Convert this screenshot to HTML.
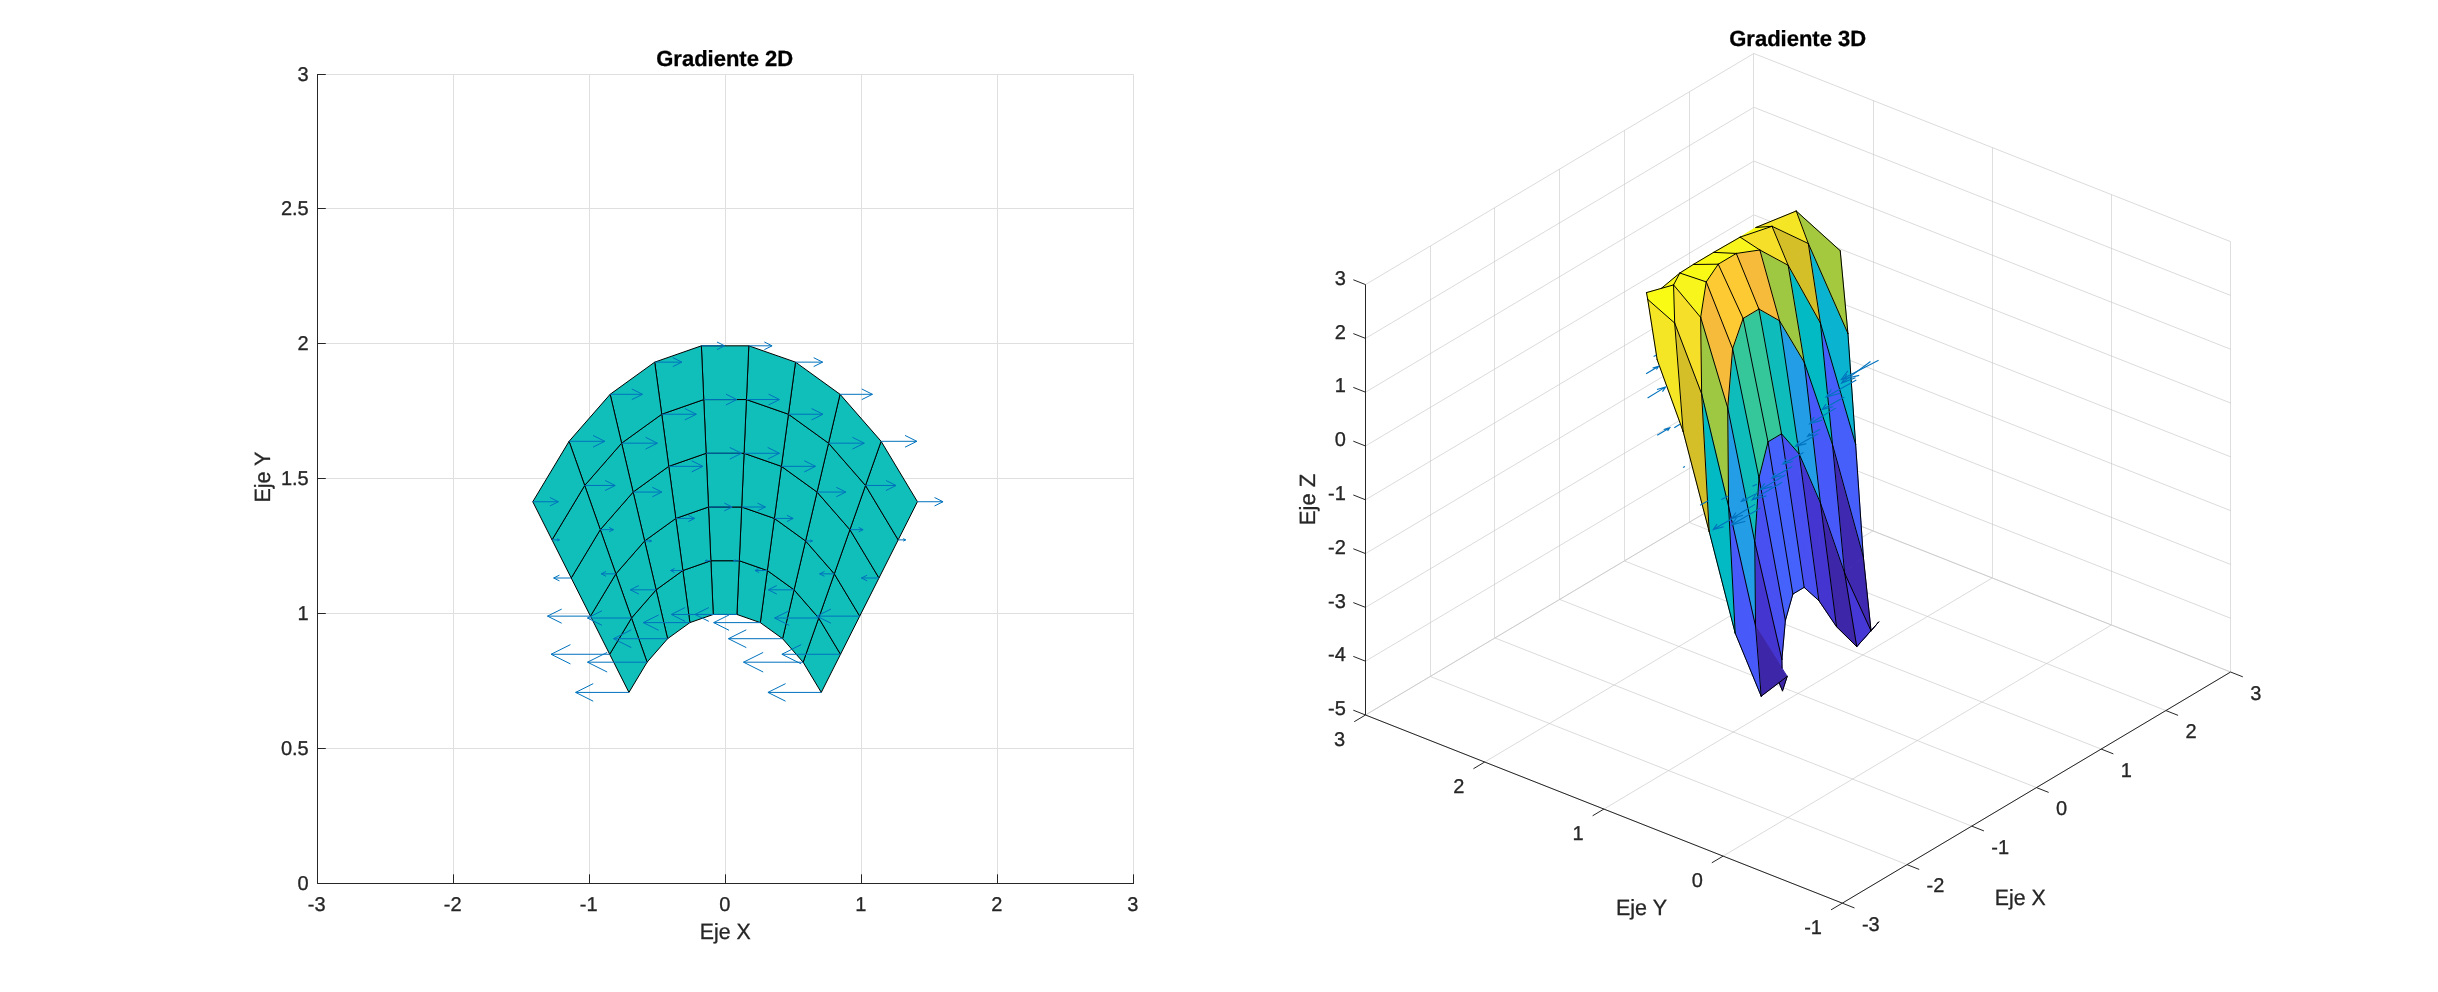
<!DOCTYPE html>
<html><head><meta charset="utf-8"><title>Gradiente</title>
<style>html,body{margin:0;padding:0;background:#fff;overflow:hidden}svg{display:block;will-change:transform}text{text-rendering:geometricPrecision}</style></head>
<body>
<svg width="2438" height="992" viewBox="0 0 2438 992">
<rect width="2438" height="992" fill="#fff"/>
<g id="ax1">
<line x1="317.5" y1="883.5" x2="317.5" y2="74.5" stroke="#dfdfdf" stroke-width="1"/>
<line x1="453.5" y1="883.5" x2="453.5" y2="74.5" stroke="#dfdfdf" stroke-width="1"/>
<line x1="589.5" y1="883.5" x2="589.5" y2="74.5" stroke="#dfdfdf" stroke-width="1"/>
<line x1="725.5" y1="883.5" x2="725.5" y2="74.5" stroke="#dfdfdf" stroke-width="1"/>
<line x1="861.5" y1="883.5" x2="861.5" y2="74.5" stroke="#dfdfdf" stroke-width="1"/>
<line x1="997.5" y1="883.5" x2="997.5" y2="74.5" stroke="#dfdfdf" stroke-width="1"/>
<line x1="1133.5" y1="883.5" x2="1133.5" y2="74.5" stroke="#dfdfdf" stroke-width="1"/>
<line x1="317.5" y1="883.5" x2="1133.5" y2="883.5" stroke="#dfdfdf" stroke-width="1"/>
<line x1="317.5" y1="748.5" x2="1133.5" y2="748.5" stroke="#dfdfdf" stroke-width="1"/>
<line x1="317.5" y1="613.5" x2="1133.5" y2="613.5" stroke="#dfdfdf" stroke-width="1"/>
<line x1="317.5" y1="478.5" x2="1133.5" y2="478.5" stroke="#dfdfdf" stroke-width="1"/>
<line x1="317.5" y1="343.5" x2="1133.5" y2="343.5" stroke="#dfdfdf" stroke-width="1"/>
<line x1="317.5" y1="208.5" x2="1133.5" y2="208.5" stroke="#dfdfdf" stroke-width="1"/>
<line x1="317.5" y1="74.5" x2="1133.5" y2="74.5" stroke="#dfdfdf" stroke-width="1"/>
<polygon points="821.27,692.42 803.11,662.2 818.71,618.02 840.5,654.28" fill="#10beba" stroke="#000" stroke-width="1" stroke-linejoin="round"/>
<polygon points="840.5,654.28 818.71,618.02 834.31,573.84 859.73,616.14" fill="#10beba" stroke="#000" stroke-width="1" stroke-linejoin="round"/>
<polygon points="859.73,616.14 834.31,573.84 849.91,529.66 878.97,578.01" fill="#10beba" stroke="#000" stroke-width="1" stroke-linejoin="round"/>
<polygon points="878.97,578.01 849.91,529.66 865.51,485.48 898.2,539.87" fill="#10beba" stroke="#000" stroke-width="1" stroke-linejoin="round"/>
<polygon points="898.2,539.87 865.51,485.48 881.11,441.3 917.43,501.73" fill="#10beba" stroke="#000" stroke-width="1" stroke-linejoin="round"/>
<polygon points="803.11,662.2 782.58,638.7 794.07,589.82 818.71,618.02" fill="#10beba" stroke="#000" stroke-width="1" stroke-linejoin="round"/>
<polygon points="818.71,618.02 794.07,589.82 805.57,540.94 834.31,573.84" fill="#10beba" stroke="#000" stroke-width="1" stroke-linejoin="round"/>
<polygon points="834.31,573.84 805.57,540.94 817.06,492.06 849.91,529.66" fill="#10beba" stroke="#000" stroke-width="1" stroke-linejoin="round"/>
<polygon points="849.91,529.66 817.06,492.06 828.56,443.18 865.51,485.48" fill="#10beba" stroke="#000" stroke-width="1" stroke-linejoin="round"/>
<polygon points="865.51,485.48 828.56,443.18 840.05,394.3 881.11,441.3" fill="#10beba" stroke="#000" stroke-width="1" stroke-linejoin="round"/>
<polygon points="782.58,638.7 760.3,622.62 767.34,570.53 794.07,589.82" fill="#10beba" stroke="#000" stroke-width="1" stroke-linejoin="round"/>
<polygon points="794.07,589.82 767.34,570.53 774.38,518.43 805.57,540.94" fill="#10beba" stroke="#000" stroke-width="1" stroke-linejoin="round"/>
<polygon points="805.57,540.94 774.38,518.43 781.42,466.34 817.06,492.06" fill="#10beba" stroke="#000" stroke-width="1" stroke-linejoin="round"/>
<polygon points="817.06,492.06 781.42,466.34 788.46,414.24 828.56,443.18" fill="#10beba" stroke="#000" stroke-width="1" stroke-linejoin="round"/>
<polygon points="828.56,443.18 788.46,414.24 795.5,362.14 840.05,394.3" fill="#10beba" stroke="#000" stroke-width="1" stroke-linejoin="round"/>
<polygon points="760.3,622.62 736.95,614.46 739.32,560.73 767.34,570.53" fill="#10beba" stroke="#000" stroke-width="1" stroke-linejoin="round"/>
<polygon points="767.34,570.53 739.32,560.73 741.69,507 774.38,518.43" fill="#10beba" stroke="#000" stroke-width="1" stroke-linejoin="round"/>
<polygon points="774.38,518.43 741.69,507 744.07,453.28 781.42,466.34" fill="#10beba" stroke="#000" stroke-width="1" stroke-linejoin="round"/>
<polygon points="781.42,466.34 744.07,453.28 746.44,399.55 788.46,414.24" fill="#10beba" stroke="#000" stroke-width="1" stroke-linejoin="round"/>
<polygon points="788.46,414.24 746.44,399.55 748.81,345.82 795.5,362.14" fill="#10beba" stroke="#000" stroke-width="1" stroke-linejoin="round"/>
<polygon points="736.95,614.46 713.25,614.46 710.88,560.73 739.32,560.73" fill="#10beba" stroke="#000" stroke-width="1" stroke-linejoin="round"/>
<polygon points="739.32,560.73 710.88,560.73 708.51,507 741.69,507" fill="#10beba" stroke="#000" stroke-width="1" stroke-linejoin="round"/>
<polygon points="741.69,507 708.51,507 706.13,453.28 744.07,453.28" fill="#10beba" stroke="#000" stroke-width="1" stroke-linejoin="round"/>
<polygon points="744.07,453.28 706.13,453.28 703.76,399.55 746.44,399.55" fill="#10beba" stroke="#000" stroke-width="1" stroke-linejoin="round"/>
<polygon points="746.44,399.55 703.76,399.55 701.39,345.82 748.81,345.82" fill="#10beba" stroke="#000" stroke-width="1" stroke-linejoin="round"/>
<polygon points="713.25,614.46 689.9,622.62 682.86,570.53 710.88,560.73" fill="#10beba" stroke="#000" stroke-width="1" stroke-linejoin="round"/>
<polygon points="710.88,560.73 682.86,570.53 675.82,518.43 708.51,507" fill="#10beba" stroke="#000" stroke-width="1" stroke-linejoin="round"/>
<polygon points="708.51,507 675.82,518.43 668.78,466.34 706.13,453.28" fill="#10beba" stroke="#000" stroke-width="1" stroke-linejoin="round"/>
<polygon points="706.13,453.28 668.78,466.34 661.74,414.24 703.76,399.55" fill="#10beba" stroke="#000" stroke-width="1" stroke-linejoin="round"/>
<polygon points="703.76,399.55 661.74,414.24 654.7,362.14 701.39,345.82" fill="#10beba" stroke="#000" stroke-width="1" stroke-linejoin="round"/>
<polygon points="689.9,622.62 667.62,638.7 656.13,589.82 682.86,570.53" fill="#10beba" stroke="#000" stroke-width="1" stroke-linejoin="round"/>
<polygon points="682.86,570.53 656.13,589.82 644.63,540.94 675.82,518.43" fill="#10beba" stroke="#000" stroke-width="1" stroke-linejoin="round"/>
<polygon points="675.82,518.43 644.63,540.94 633.14,492.06 668.78,466.34" fill="#10beba" stroke="#000" stroke-width="1" stroke-linejoin="round"/>
<polygon points="668.78,466.34 633.14,492.06 621.64,443.18 661.74,414.24" fill="#10beba" stroke="#000" stroke-width="1" stroke-linejoin="round"/>
<polygon points="661.74,414.24 621.64,443.18 610.15,394.3 654.7,362.14" fill="#10beba" stroke="#000" stroke-width="1" stroke-linejoin="round"/>
<polygon points="667.62,638.7 647.09,662.2 631.49,618.02 656.13,589.82" fill="#10beba" stroke="#000" stroke-width="1" stroke-linejoin="round"/>
<polygon points="656.13,589.82 631.49,618.02 615.89,573.84 644.63,540.94" fill="#10beba" stroke="#000" stroke-width="1" stroke-linejoin="round"/>
<polygon points="644.63,540.94 615.89,573.84 600.29,529.66 633.14,492.06" fill="#10beba" stroke="#000" stroke-width="1" stroke-linejoin="round"/>
<polygon points="633.14,492.06 600.29,529.66 584.69,485.48 621.64,443.18" fill="#10beba" stroke="#000" stroke-width="1" stroke-linejoin="round"/>
<polygon points="621.64,443.18 584.69,485.48 569.09,441.3 610.15,394.3" fill="#10beba" stroke="#000" stroke-width="1" stroke-linejoin="round"/>
<polygon points="647.09,662.2 628.93,692.42 609.7,654.28 631.49,618.02" fill="#10beba" stroke="#000" stroke-width="1" stroke-linejoin="round"/>
<polygon points="631.49,618.02 609.7,654.28 590.47,616.14 615.89,573.84" fill="#10beba" stroke="#000" stroke-width="1" stroke-linejoin="round"/>
<polygon points="615.89,573.84 590.47,616.14 571.23,578.01 600.29,529.66" fill="#10beba" stroke="#000" stroke-width="1" stroke-linejoin="round"/>
<polygon points="600.29,529.66 571.23,578.01 552,539.87 584.69,485.48" fill="#10beba" stroke="#000" stroke-width="1" stroke-linejoin="round"/>
<polygon points="584.69,485.48 552,539.87 532.77,501.73 569.09,441.3" fill="#10beba" stroke="#000" stroke-width="1" stroke-linejoin="round"/>
<path d="M821.27 692.42H767.95M785.55 683.65L767.95 692.42L785.55 701.18" fill="none" stroke="#0072bd" stroke-width="1"/>
<path d="M840.5 654.28H781.88M801.23 644.64L781.88 654.28L801.23 663.92" fill="none" stroke="#0072bd" stroke-width="1"/>
<path d="M859.73 616.14H816.77M830.94 609.08L816.77 616.14L830.94 623.21" fill="none" stroke="#0072bd" stroke-width="1"/>
<path d="M878.97 578.01H861.39M867.19 575.12L861.39 578.01L867.19 580.9" fill="none" stroke="#0072bd" stroke-width="1"/>
<path d="M898.2 539.87H905.69M903.22 538.64L905.69 539.87L903.22 541.1" fill="none" stroke="#0072bd" stroke-width="1"/>
<path d="M917.43 501.73H943.04M934.59 497.52L943.04 501.73L934.59 505.94" fill="none" stroke="#0072bd" stroke-width="1"/>
<path d="M803.11 662.2H743.52M763.18 652.41L743.52 662.2L763.18 672" fill="none" stroke="#0072bd" stroke-width="1"/>
<path d="M818.71 618.02H774.65M789.19 610.78L774.65 618.02L789.19 625.27" fill="none" stroke="#0072bd" stroke-width="1"/>
<path d="M834.31 573.84H819.64M824.48 571.43L819.64 573.84L824.48 576.25" fill="none" stroke="#0072bd" stroke-width="1"/>
<path d="M849.91 529.66H863.11M858.75 527.49L863.11 529.66L858.75 531.83" fill="none" stroke="#0072bd" stroke-width="1"/>
<path d="M865.51 485.48H896.01M885.94 480.47L896.01 485.48L885.94 490.5" fill="none" stroke="#0072bd" stroke-width="1"/>
<path d="M881.11 441.3H916.84M905.05 435.43L916.84 441.3L905.05 447.18" fill="none" stroke="#0072bd" stroke-width="1"/>
<path d="M782.58 638.7H728.45M746.31 629.8L728.45 638.7L746.31 647.6" fill="none" stroke="#0072bd" stroke-width="1"/>
<path d="M794.07 589.82H768.25M776.77 585.57L768.25 589.82L776.77 594.06" fill="none" stroke="#0072bd" stroke-width="1"/>
<path d="M805.57 540.94H812.43M810.17 539.81L812.43 540.94L810.17 542.07" fill="none" stroke="#0072bd" stroke-width="1"/>
<path d="M817.06 492.06H845.79M836.31 487.34L845.79 492.06L836.31 496.78" fill="none" stroke="#0072bd" stroke-width="1"/>
<path d="M828.56 443.18H864.26M852.48 437.31L864.26 443.18L852.48 449.05" fill="none" stroke="#0072bd" stroke-width="1"/>
<path d="M840.05 394.3H872.43M861.75 388.97L872.43 394.3L861.75 399.62" fill="none" stroke="#0072bd" stroke-width="1"/>
<path d="M760.3 622.62H713.68M729.06 614.96L713.68 622.62L729.06 630.29" fill="none" stroke="#0072bd" stroke-width="1"/>
<path d="M767.34 570.53H754.97M759.05 568.49L754.97 570.53L759.05 572.56" fill="none" stroke="#0072bd" stroke-width="1"/>
<path d="M774.38 518.43H793.16M786.96 515.34L793.16 518.43L786.96 521.52" fill="none" stroke="#0072bd" stroke-width="1"/>
<path d="M781.42 466.34H815.51M804.26 460.73L815.51 466.34L804.26 471.94" fill="none" stroke="#0072bd" stroke-width="1"/>
<path d="M788.46 414.24H823.01M811.61 408.56L823.01 414.24L811.61 419.92" fill="none" stroke="#0072bd" stroke-width="1"/>
<path d="M795.5 362.14H822.62M813.67 357.68L822.62 362.14L813.67 366.6" fill="none" stroke="#0072bd" stroke-width="1"/>
<path d="M736.95 614.46H694.98M708.83 607.56L694.98 614.46L708.83 621.36" fill="none" stroke="#0072bd" stroke-width="1"/>
<path d="M739.32 560.73H733.64M735.51 559.8L733.64 560.73L735.51 561.67" fill="none" stroke="#0072bd" stroke-width="1"/>
<path d="M741.69 507H765.35M757.54 503.12L765.35 507L757.54 510.89" fill="none" stroke="#0072bd" stroke-width="1"/>
<path d="M744.07 453.28H779.4M767.74 447.47L779.4 453.28L767.74 459.08" fill="none" stroke="#0072bd" stroke-width="1"/>
<path d="M746.44 399.55H779.47M768.57 394.12L779.47 399.55L768.57 404.98" fill="none" stroke="#0072bd" stroke-width="1"/>
<path d="M748.81 345.82H772.07M764.39 341.99L772.07 345.82L764.39 349.64" fill="none" stroke="#0072bd" stroke-width="1"/>
<path d="M713.25 614.46H671.28M685.13 607.56L671.28 614.46L685.13 621.36" fill="none" stroke="#0072bd" stroke-width="1"/>
<path d="M710.88 560.73H705.19M707.07 559.8L705.19 560.73L707.07 561.67" fill="none" stroke="#0072bd" stroke-width="1"/>
<path d="M708.51 507H732.16M724.35 503.12L732.16 507L724.35 510.89" fill="none" stroke="#0072bd" stroke-width="1"/>
<path d="M706.13 453.28H741.47M729.81 447.47L741.47 453.28L729.81 459.08" fill="none" stroke="#0072bd" stroke-width="1"/>
<path d="M703.76 399.55H736.8M725.9 394.12L736.8 399.55L725.9 404.98" fill="none" stroke="#0072bd" stroke-width="1"/>
<path d="M701.39 345.82H724.65M716.98 341.99L724.65 345.82L716.98 349.64" fill="none" stroke="#0072bd" stroke-width="1"/>
<path d="M689.9 622.62H643.28M658.66 614.96L643.28 622.62L658.66 630.29" fill="none" stroke="#0072bd" stroke-width="1"/>
<path d="M682.86 570.53H670.49M674.57 568.49L670.49 570.53L674.57 572.56" fill="none" stroke="#0072bd" stroke-width="1"/>
<path d="M675.82 518.43H694.6M688.4 515.34L694.6 518.43L688.4 521.52" fill="none" stroke="#0072bd" stroke-width="1"/>
<path d="M668.78 466.34H702.87M691.62 460.73L702.87 466.34L691.62 471.94" fill="none" stroke="#0072bd" stroke-width="1"/>
<path d="M661.74 414.24H696.29M684.89 408.56L696.29 414.24L684.89 419.92" fill="none" stroke="#0072bd" stroke-width="1"/>
<path d="M654.7 362.14H681.83M672.87 357.68L681.83 362.14L672.87 366.6" fill="none" stroke="#0072bd" stroke-width="1"/>
<path d="M667.62 638.7H613.5M631.36 629.8L613.5 638.7L631.36 647.6" fill="none" stroke="#0072bd" stroke-width="1"/>
<path d="M656.13 589.82H630.3M638.83 585.57L630.3 589.82L638.83 594.06" fill="none" stroke="#0072bd" stroke-width="1"/>
<path d="M644.63 540.94H651.5M649.23 539.81L651.5 540.94L649.23 542.07" fill="none" stroke="#0072bd" stroke-width="1"/>
<path d="M633.14 492.06H661.86M652.38 487.34L661.86 492.06L652.38 496.78" fill="none" stroke="#0072bd" stroke-width="1"/>
<path d="M621.64 443.18H657.35M645.57 437.31L657.35 443.18L645.57 449.05" fill="none" stroke="#0072bd" stroke-width="1"/>
<path d="M610.15 394.3H642.53M631.84 388.97L642.53 394.3L631.84 399.62" fill="none" stroke="#0072bd" stroke-width="1"/>
<path d="M647.09 662.2H587.5M607.17 652.41L587.5 662.2L607.17 672" fill="none" stroke="#0072bd" stroke-width="1"/>
<path d="M631.49 618.02H587.43M601.97 610.78L587.43 618.02L601.97 625.27" fill="none" stroke="#0072bd" stroke-width="1"/>
<path d="M615.89 573.84H601.22M606.06 571.43L601.22 573.84L606.06 576.25" fill="none" stroke="#0072bd" stroke-width="1"/>
<path d="M600.29 529.66H613.49M609.13 527.49L613.49 529.66L609.13 531.83" fill="none" stroke="#0072bd" stroke-width="1"/>
<path d="M584.69 485.48H615.18M605.12 480.47L615.18 485.48L605.12 490.5" fill="none" stroke="#0072bd" stroke-width="1"/>
<path d="M569.09 441.3H604.81M593.02 435.43L604.81 441.3L593.02 447.18" fill="none" stroke="#0072bd" stroke-width="1"/>
<path d="M628.93 692.42H575.62M593.21 683.65L575.62 692.42L593.21 701.18" fill="none" stroke="#0072bd" stroke-width="1"/>
<path d="M609.7 654.28H551.09M570.43 644.64L551.09 654.28L570.43 663.92" fill="none" stroke="#0072bd" stroke-width="1"/>
<path d="M590.47 616.14H547.5M561.68 609.08L547.5 616.14L561.68 623.21" fill="none" stroke="#0072bd" stroke-width="1"/>
<path d="M571.23 578.01H553.66M559.46 575.12L553.66 578.01L559.46 580.9" fill="none" stroke="#0072bd" stroke-width="1"/>
<path d="M552 539.87H559.49M557.02 538.64L559.49 539.87L557.02 541.1" fill="none" stroke="#0072bd" stroke-width="1"/>
<path d="M532.77 501.73H558.38M549.93 497.52L558.38 501.73L549.93 505.94" fill="none" stroke="#0072bd" stroke-width="1"/>
<path d="M317.5 74V883.5H1134" fill="none" stroke="#262626" stroke-width="1"/>
<line x1="317.5" y1="883.5" x2="317.5" y2="874.3" stroke="#262626" stroke-width="1"/>
<text x="316.7" y="910.6" text-anchor="middle" font-size="20" fill="#262626" font-family="Liberation Sans, sans-serif" stroke="#262626" stroke-width="0.3">-3</text>
<line x1="453.5" y1="883.5" x2="453.5" y2="874.3" stroke="#262626" stroke-width="1"/>
<text x="452.7" y="910.6" text-anchor="middle" font-size="20" fill="#262626" font-family="Liberation Sans, sans-serif" stroke="#262626" stroke-width="0.3">-2</text>
<line x1="589.5" y1="883.5" x2="589.5" y2="874.3" stroke="#262626" stroke-width="1"/>
<text x="588.7" y="910.6" text-anchor="middle" font-size="20" fill="#262626" font-family="Liberation Sans, sans-serif" stroke="#262626" stroke-width="0.3">-1</text>
<line x1="725.5" y1="883.5" x2="725.5" y2="874.3" stroke="#262626" stroke-width="1"/>
<text x="724.7" y="910.6" text-anchor="middle" font-size="20" fill="#262626" font-family="Liberation Sans, sans-serif" stroke="#262626" stroke-width="0.3">0</text>
<line x1="861.5" y1="883.5" x2="861.5" y2="874.3" stroke="#262626" stroke-width="1"/>
<text x="860.7" y="910.6" text-anchor="middle" font-size="20" fill="#262626" font-family="Liberation Sans, sans-serif" stroke="#262626" stroke-width="0.3">1</text>
<line x1="997.5" y1="883.5" x2="997.5" y2="874.3" stroke="#262626" stroke-width="1"/>
<text x="996.7" y="910.6" text-anchor="middle" font-size="20" fill="#262626" font-family="Liberation Sans, sans-serif" stroke="#262626" stroke-width="0.3">2</text>
<line x1="1133.5" y1="883.5" x2="1133.5" y2="874.3" stroke="#262626" stroke-width="1"/>
<text x="1132.7" y="910.6" text-anchor="middle" font-size="20" fill="#262626" font-family="Liberation Sans, sans-serif" stroke="#262626" stroke-width="0.3">3</text>
<line x1="317.5" y1="883.5" x2="325.8" y2="883.5" stroke="#262626" stroke-width="1"/>
<text x="308.7" y="890" text-anchor="end" font-size="20" fill="#262626" font-family="Liberation Sans, sans-serif" stroke="#262626" stroke-width="0.3">0</text>
<line x1="317.5" y1="748.5" x2="325.8" y2="748.5" stroke="#262626" stroke-width="1"/>
<text x="308.7" y="755" text-anchor="end" font-size="20" fill="#262626" font-family="Liberation Sans, sans-serif" stroke="#262626" stroke-width="0.3">0.5</text>
<line x1="317.5" y1="613.5" x2="325.8" y2="613.5" stroke="#262626" stroke-width="1"/>
<text x="308.7" y="620" text-anchor="end" font-size="20" fill="#262626" font-family="Liberation Sans, sans-serif" stroke="#262626" stroke-width="0.3">1</text>
<line x1="317.5" y1="478.5" x2="325.8" y2="478.5" stroke="#262626" stroke-width="1"/>
<text x="308.7" y="485" text-anchor="end" font-size="20" fill="#262626" font-family="Liberation Sans, sans-serif" stroke="#262626" stroke-width="0.3">1.5</text>
<line x1="317.5" y1="343.5" x2="325.8" y2="343.5" stroke="#262626" stroke-width="1"/>
<text x="308.7" y="350" text-anchor="end" font-size="20" fill="#262626" font-family="Liberation Sans, sans-serif" stroke="#262626" stroke-width="0.3">2</text>
<line x1="317.5" y1="208.5" x2="325.8" y2="208.5" stroke="#262626" stroke-width="1"/>
<text x="308.7" y="215" text-anchor="end" font-size="20" fill="#262626" font-family="Liberation Sans, sans-serif" stroke="#262626" stroke-width="0.3">2.5</text>
<line x1="317.5" y1="74.5" x2="325.8" y2="74.5" stroke="#262626" stroke-width="1"/>
<text x="308.7" y="81" text-anchor="end" font-size="20" fill="#262626" font-family="Liberation Sans, sans-serif" stroke="#262626" stroke-width="0.3">3</text>
<text x="725.3" y="939" text-anchor="middle" font-size="22" fill="#262626" font-family="Liberation Sans, sans-serif" stroke="#262626" stroke-width="0.3" textLength="50.9" lengthAdjust="spacingAndGlyphs">Eje X</text>
<text transform="translate(270 477.1) rotate(-90)" text-anchor="middle" font-size="22" fill="#262626" font-family="Liberation Sans, sans-serif" stroke="#262626" stroke-width="0.3" textLength="51" lengthAdjust="spacingAndGlyphs">Eje Y</text>
<text x="724.7" y="66" text-anchor="middle" font-size="22" font-weight="bold" fill="#000" font-family="Liberation Sans, sans-serif" stroke="#000" stroke-width="0.3">Gradiente 2D</text>
</g>
<g id="ax2">
<path d="M1842.3 903.15L1365.5 714.99" stroke="#c2c2c2" stroke-width="0.6" fill="none"/>
<path d="M1907.02 864.63L1430.22 676.47" stroke="#c2c2c2" stroke-width="0.6" fill="none"/>
<path d="M1971.74 826.11L1494.94 637.95" stroke="#c2c2c2" stroke-width="0.6" fill="none"/>
<path d="M2036.46 787.59L1559.66 599.43" stroke="#c2c2c2" stroke-width="0.6" fill="none"/>
<path d="M2101.18 749.07L1624.38 560.91" stroke="#c2c2c2" stroke-width="0.6" fill="none"/>
<path d="M2165.9 710.55L1689.1 522.39" stroke="#c2c2c2" stroke-width="0.6" fill="none"/>
<path d="M2230.62 672.03L1753.82 483.87" stroke="#c2c2c2" stroke-width="0.6" fill="none"/>
<path d="M1842.3 903.15L2230.62 672.03" stroke="#c2c2c2" stroke-width="0.6" fill="none"/>
<path d="M1723.1 856.11L2111.42 624.99" stroke="#c2c2c2" stroke-width="0.6" fill="none"/>
<path d="M1603.9 809.07L1992.22 577.95" stroke="#c2c2c2" stroke-width="0.6" fill="none"/>
<path d="M1484.7 762.03L1873.02 530.91" stroke="#c2c2c2" stroke-width="0.6" fill="none"/>
<path d="M1365.5 714.99L1753.82 483.87" stroke="#c2c2c2" stroke-width="0.6" fill="none"/>
<path d="M1365.5 714.99L1365.5 284.59" stroke="#dfdfdf" stroke-width="1" fill="none"/>
<path d="M1430.5 676.47L1430.5 246.07" stroke="#dfdfdf" stroke-width="1" fill="none"/>
<path d="M1494.5 637.95L1494.5 207.55" stroke="#dfdfdf" stroke-width="1" fill="none"/>
<path d="M1559.5 599.43L1559.5 169.03" stroke="#dfdfdf" stroke-width="1" fill="none"/>
<path d="M1624.5 560.91L1624.5 130.51" stroke="#dfdfdf" stroke-width="1" fill="none"/>
<path d="M1689.5 522.39L1689.5 91.99" stroke="#dfdfdf" stroke-width="1" fill="none"/>
<path d="M1753.5 483.87L1753.5 53.47" stroke="#dfdfdf" stroke-width="1" fill="none"/>
<path d="M1365.5 714.99L1753.82 483.87" stroke="#c2c2c2" stroke-width="0.6" fill="none"/>
<path d="M1365.5 661.19L1753.82 430.07" stroke="#c2c2c2" stroke-width="0.6" fill="none"/>
<path d="M1365.5 607.39L1753.82 376.27" stroke="#c2c2c2" stroke-width="0.6" fill="none"/>
<path d="M1365.5 553.59L1753.82 322.47" stroke="#c2c2c2" stroke-width="0.6" fill="none"/>
<path d="M1365.5 499.79L1753.82 268.67" stroke="#c2c2c2" stroke-width="0.6" fill="none"/>
<path d="M1365.5 445.99L1753.82 214.87" stroke="#c2c2c2" stroke-width="0.6" fill="none"/>
<path d="M1365.5 392.19L1753.82 161.07" stroke="#c2c2c2" stroke-width="0.6" fill="none"/>
<path d="M1365.5 338.39L1753.82 107.27" stroke="#c2c2c2" stroke-width="0.6" fill="none"/>
<path d="M1365.5 284.59L1753.82 53.47" stroke="#c2c2c2" stroke-width="0.6" fill="none"/>
<path d="M2230.5 672.03L2230.5 241.63" stroke="#dfdfdf" stroke-width="1" fill="none"/>
<path d="M2111.5 624.99L2111.5 194.59" stroke="#dfdfdf" stroke-width="1" fill="none"/>
<path d="M1992.5 577.95L1992.5 147.55" stroke="#dfdfdf" stroke-width="1" fill="none"/>
<path d="M1873.5 530.91L1873.5 100.51" stroke="#dfdfdf" stroke-width="1" fill="none"/>
<path d="M1753.5 483.87L1753.5 53.47" stroke="#dfdfdf" stroke-width="1" fill="none"/>
<path d="M2230.62 672.03L1753.82 483.87" stroke="#c2c2c2" stroke-width="0.6" fill="none"/>
<path d="M2230.62 618.23L1753.82 430.07" stroke="#c2c2c2" stroke-width="0.6" fill="none"/>
<path d="M2230.62 564.43L1753.82 376.27" stroke="#c2c2c2" stroke-width="0.6" fill="none"/>
<path d="M2230.62 510.63L1753.82 322.47" stroke="#c2c2c2" stroke-width="0.6" fill="none"/>
<path d="M2230.62 456.83L1753.82 268.67" stroke="#c2c2c2" stroke-width="0.6" fill="none"/>
<path d="M2230.62 403.03L1753.82 214.87" stroke="#c2c2c2" stroke-width="0.6" fill="none"/>
<path d="M2230.62 349.23L1753.82 161.07" stroke="#c2c2c2" stroke-width="0.6" fill="none"/>
<path d="M2230.62 295.43L1753.82 107.27" stroke="#c2c2c2" stroke-width="0.6" fill="none"/>
<path d="M2230.62 241.63L1753.82 53.47" stroke="#c2c2c2" stroke-width="0.6" fill="none"/>
<g id="surf3">
<path d="M1878.74 621.95L1856.74 646.66L1871.03 630.82Z" fill="#4538d7" stroke="#4538d7" stroke-width="1" stroke-linejoin="round"/>
<path d="M1844.63 573.09L1856.74 646.66L1870.97 630.68Z" fill="#4538d7" stroke="#4538d7" stroke-width="1" stroke-linejoin="round"/>
<path d="M1871.03 630.82L1844.63 573.09L1863.33 556.83Z" fill="#3f29b0" stroke="#3f29b0" stroke-width="1" stroke-linejoin="round"/>
<path d="M1844.63 573.09L1832.53 444.71L1863.33 556.83Z" fill="#3f29b0" stroke="#3f29b0" stroke-width="1" stroke-linejoin="round"/>
<path d="M1863.33 556.83L1832.53 444.71L1855.62 444.29Z" fill="#465efa" stroke="#465efa" stroke-width="1" stroke-linejoin="round"/>
<path d="M1832.53 444.71L1820.43 323.1L1855.62 444.29Z" fill="#465efa" stroke="#465efa" stroke-width="1" stroke-linejoin="round"/>
<path d="M1855.62 444.29L1820.43 323.1L1847.92 333.44Z" fill="#0ab4d1" stroke="#0ab4d1" stroke-width="1" stroke-linejoin="round"/>
<path d="M1820.43 323.1L1808.32 243.54L1847.92 333.44Z" fill="#0ab4d1" stroke="#0ab4d1" stroke-width="1" stroke-linejoin="round"/>
<path d="M1847.92 333.44L1808.32 243.54L1840.21 250.71Z" fill="#a4c83e" stroke="#a4c83e" stroke-width="1" stroke-linejoin="round"/>
<path d="M1808.32 243.54L1796.22 211.02L1840.21 250.71Z" fill="#a4c83e" stroke="#a4c83e" stroke-width="1" stroke-linejoin="round"/>
<path d="M1856.74 646.66L1836.58 626.76L1844.63 573.09Z" fill="#3e26a8" stroke="#3e26a8" stroke-width="1" stroke-linejoin="round"/>
<path d="M1836.58 626.76L1820.44 503.01L1844.63 573.09Z" fill="#3e26a8" stroke="#3e26a8" stroke-width="1" stroke-linejoin="round"/>
<path d="M1844.63 573.09L1820.44 503.01L1832.53 444.71Z" fill="#475af9" stroke="#475af9" stroke-width="1" stroke-linejoin="round"/>
<path d="M1820.44 503.01L1804.31 362.32L1832.53 444.71Z" fill="#475af9" stroke="#475af9" stroke-width="1" stroke-linejoin="round"/>
<path d="M1832.53 444.71L1804.31 362.32L1820.43 323.1Z" fill="#02bac4" stroke="#02bac4" stroke-width="1" stroke-linejoin="round"/>
<path d="M1804.31 362.32L1788.17 265.3L1820.43 323.1Z" fill="#02bac4" stroke="#02bac4" stroke-width="1" stroke-linejoin="round"/>
<path d="M1820.43 323.1L1788.17 265.3L1808.32 243.54Z" fill="#d4bf29" stroke="#d4bf29" stroke-width="1" stroke-linejoin="round"/>
<path d="M1788.17 265.3L1772.04 226.31L1808.32 243.54Z" fill="#d4bf29" stroke="#d4bf29" stroke-width="1" stroke-linejoin="round"/>
<path d="M1808.32 243.54L1772.04 226.31L1796.22 211.02Z" fill="#f5e625" stroke="#f5e625" stroke-width="1" stroke-linejoin="round"/>
<path d="M1772.04 226.31L1755.9 227.48L1796.22 211.02Z" fill="#f5e625" stroke="#f5e625" stroke-width="1" stroke-linejoin="round"/>
<path d="M1836.58 626.76L1818.87 600.58L1820.44 503.01Z" fill="#4435d1" stroke="#4435d1" stroke-width="1" stroke-linejoin="round"/>
<path d="M1818.87 600.58L1799.19 453.99L1820.44 503.01Z" fill="#4435d1" stroke="#4435d1" stroke-width="1" stroke-linejoin="round"/>
<path d="M1820.44 503.01L1799.19 453.99L1804.31 362.32Z" fill="#249de7" stroke="#249de7" stroke-width="1" stroke-linejoin="round"/>
<path d="M1799.19 453.99L1779.52 320.76L1804.31 362.32Z" fill="#249de7" stroke="#249de7" stroke-width="1" stroke-linejoin="round"/>
<path d="M1804.31 362.32L1779.52 320.76L1788.17 265.3Z" fill="#9fc842" stroke="#9fc842" stroke-width="1" stroke-linejoin="round"/>
<path d="M1779.52 320.76L1759.84 249.99L1788.17 265.3Z" fill="#9fc842" stroke="#9fc842" stroke-width="1" stroke-linejoin="round"/>
<path d="M1788.17 265.3L1759.84 249.99L1772.04 226.31Z" fill="#f6df29" stroke="#f6df29" stroke-width="1" stroke-linejoin="round"/>
<path d="M1759.84 249.99L1740.16 237.13L1772.04 226.31Z" fill="#f6df29" stroke="#f6df29" stroke-width="1" stroke-linejoin="round"/>
<path d="M1772.04 226.31L1740.16 237.13L1755.9 227.48Z" fill="#f9fb15" stroke="#f9fb15" stroke-width="1" stroke-linejoin="round"/>
<path d="M1818.87 600.58L1804.15 587.36L1799.19 453.99Z" fill="#4850f2" stroke="#4850f2" stroke-width="1" stroke-linejoin="round"/>
<path d="M1804.15 587.36L1781.53 433.79L1799.19 453.99Z" fill="#4850f2" stroke="#4850f2" stroke-width="1" stroke-linejoin="round"/>
<path d="M1799.19 453.99L1781.53 433.79L1779.52 320.76Z" fill="#0ebdbb" stroke="#0ebdbb" stroke-width="1" stroke-linejoin="round"/>
<path d="M1781.53 433.79L1758.91 309.04L1779.52 320.76Z" fill="#0ebdbb" stroke="#0ebdbb" stroke-width="1" stroke-linejoin="round"/>
<path d="M1779.52 320.76L1758.91 309.04L1759.84 249.99Z" fill="#f6bb3a" stroke="#f6bb3a" stroke-width="1" stroke-linejoin="round"/>
<path d="M1758.91 309.04L1736.29 253.45L1759.84 249.99Z" fill="#f6bb3a" stroke="#f6bb3a" stroke-width="1" stroke-linejoin="round"/>
<path d="M1759.84 249.99L1736.29 253.45L1740.16 237.13Z" fill="#f7f51b" stroke="#f7f51b" stroke-width="1" stroke-linejoin="round"/>
<path d="M1736.29 253.45L1713.67 252.37L1740.16 237.13Z" fill="#f7f51b" stroke="#f7f51b" stroke-width="1" stroke-linejoin="round"/>
<path d="M1804.15 587.36L1792.87 594.07L1781.53 433.79Z" fill="#4562fc" stroke="#4562fc" stroke-width="1" stroke-linejoin="round"/>
<path d="M1792.87 594.07L1768 441.84L1781.53 433.79Z" fill="#4562fc" stroke="#4562fc" stroke-width="1" stroke-linejoin="round"/>
<path d="M1781.53 433.79L1768 441.84L1758.91 309.04Z" fill="#35c79a" stroke="#35c79a" stroke-width="1" stroke-linejoin="round"/>
<path d="M1768 441.84L1743.12 318.44L1758.91 309.04Z" fill="#35c79a" stroke="#35c79a" stroke-width="1" stroke-linejoin="round"/>
<path d="M1758.91 309.04L1743.12 318.44L1736.29 253.45Z" fill="#feca33" stroke="#feca33" stroke-width="1" stroke-linejoin="round"/>
<path d="M1743.12 318.44L1718.24 264.2L1736.29 253.45Z" fill="#feca33" stroke="#feca33" stroke-width="1" stroke-linejoin="round"/>
<path d="M1736.29 253.45L1718.24 264.2L1713.67 252.37Z" fill="#f9f916" stroke="#f9f916" stroke-width="1" stroke-linejoin="round"/>
<path d="M1718.24 264.2L1693.36 264.45L1713.67 252.37Z" fill="#f9f916" stroke="#f9f916" stroke-width="1" stroke-linejoin="round"/>
<path d="M1792.87 594.07L1785.37 620.52L1768 441.84Z" fill="#4562fc" stroke="#4562fc" stroke-width="1" stroke-linejoin="round"/>
<path d="M1785.37 620.52L1758.99 477.92L1768 441.84Z" fill="#4562fc" stroke="#4562fc" stroke-width="1" stroke-linejoin="round"/>
<path d="M1768 441.84L1758.99 477.92L1743.12 318.44Z" fill="#35c79a" stroke="#35c79a" stroke-width="1" stroke-linejoin="round"/>
<path d="M1758.99 477.92L1732.62 348.67L1743.12 318.44Z" fill="#35c79a" stroke="#35c79a" stroke-width="1" stroke-linejoin="round"/>
<path d="M1743.12 318.44L1732.62 348.67L1718.24 264.2Z" fill="#feca33" stroke="#feca33" stroke-width="1" stroke-linejoin="round"/>
<path d="M1732.62 348.67L1706.24 281.89L1718.24 264.2Z" fill="#feca33" stroke="#feca33" stroke-width="1" stroke-linejoin="round"/>
<path d="M1718.24 264.2L1706.24 281.89L1693.36 264.45Z" fill="#f9f916" stroke="#f9f916" stroke-width="1" stroke-linejoin="round"/>
<path d="M1706.24 281.89L1679.86 273.02L1693.36 264.45Z" fill="#f9f916" stroke="#f9f916" stroke-width="1" stroke-linejoin="round"/>
<path d="M1785.37 620.52L1781.88 659.32L1758.99 477.92Z" fill="#4850f2" stroke="#4850f2" stroke-width="1" stroke-linejoin="round"/>
<path d="M1781.88 659.32L1754.8 542.09L1758.99 477.92Z" fill="#4850f2" stroke="#4850f2" stroke-width="1" stroke-linejoin="round"/>
<path d="M1758.99 477.92L1754.8 542.09L1732.62 348.67Z" fill="#0ebdbb" stroke="#0ebdbb" stroke-width="1" stroke-linejoin="round"/>
<path d="M1754.8 542.09L1727.72 407.9L1732.62 348.67Z" fill="#0ebdbb" stroke="#0ebdbb" stroke-width="1" stroke-linejoin="round"/>
<path d="M1732.62 348.67L1727.72 407.9L1706.24 281.89Z" fill="#f6bb3a" stroke="#f6bb3a" stroke-width="1" stroke-linejoin="round"/>
<path d="M1727.72 407.9L1700.65 317.39L1706.24 281.89Z" fill="#f6bb3a" stroke="#f6bb3a" stroke-width="1" stroke-linejoin="round"/>
<path d="M1706.24 281.89L1700.65 317.39L1679.86 273.02Z" fill="#f7f51b" stroke="#f7f51b" stroke-width="1" stroke-linejoin="round"/>
<path d="M1700.65 317.39L1673.57 284.91L1679.86 273.02Z" fill="#f7f51b" stroke="#f7f51b" stroke-width="1" stroke-linejoin="round"/>
<path d="M1661.29 288.4L1673.57 284.91L1679.86 273.02Z" fill="#f8f619" stroke="#f8f619" stroke-width="1" stroke-linejoin="round"/>
<path d="M1754.8 542.09L1776.7 659.74L1778.17 662.08L1782.05 668.23L1781.88 659.32Z" fill="#4435d1" stroke="#4435d1" stroke-width="1" stroke-linejoin="round"/>
<path d="M1755.54 626.12L1776.7 659.74L1754.8 542.09Z" fill="#4435d1" stroke="#4435d1" stroke-width="1" stroke-linejoin="round"/>
<path d="M1754.8 542.09L1755.54 626.12L1727.72 407.9Z" fill="#249de7" stroke="#249de7" stroke-width="1" stroke-linejoin="round"/>
<path d="M1755.54 626.12L1728.59 506.57L1727.72 407.9Z" fill="#249de7" stroke="#249de7" stroke-width="1" stroke-linejoin="round"/>
<path d="M1727.72 407.9L1728.59 506.57L1700.65 317.39Z" fill="#9fc842" stroke="#9fc842" stroke-width="1" stroke-linejoin="round"/>
<path d="M1728.59 506.57L1701.64 393.8L1700.65 317.39Z" fill="#9fc842" stroke="#9fc842" stroke-width="1" stroke-linejoin="round"/>
<path d="M1700.65 317.39L1701.64 393.8L1673.57 284.91Z" fill="#f6df29" stroke="#f6df29" stroke-width="1" stroke-linejoin="round"/>
<path d="M1701.64 393.8L1674.68 323.08L1673.57 284.91Z" fill="#f6df29" stroke="#f6df29" stroke-width="1" stroke-linejoin="round"/>
<path d="M1673.57 284.91L1674.68 323.08L1646.49 292.6Z" fill="#f9fb15" stroke="#f9fb15" stroke-width="1" stroke-linejoin="round"/>
<path d="M1674.68 323.08L1647.73 299.4L1646.49 292.6Z" fill="#f9fb15" stroke="#f9fb15" stroke-width="1" stroke-linejoin="round"/>
<path d="M1787.21 676.43L1779.07 682.62L1782.5 690.85Z" fill="#3e26a8" stroke="#3e26a8" stroke-width="1" stroke-linejoin="round"/>
<path d="M1787.21 676.43L1761.2 696.19L1755.54 626.12Z" fill="#3e26a8" stroke="#3e26a8" stroke-width="1" stroke-linejoin="round"/>
<path d="M1755.54 626.12L1761.2 696.19L1728.59 506.57Z" fill="#475af9" stroke="#475af9" stroke-width="1" stroke-linejoin="round"/>
<path d="M1761.2 696.19L1735.19 633.09L1728.59 506.57Z" fill="#475af9" stroke="#475af9" stroke-width="1" stroke-linejoin="round"/>
<path d="M1728.59 506.57L1735.19 633.09L1701.64 393.8Z" fill="#02bac4" stroke="#02bac4" stroke-width="1" stroke-linejoin="round"/>
<path d="M1735.19 633.09L1709.18 531.45L1701.64 393.8Z" fill="#02bac4" stroke="#02bac4" stroke-width="1" stroke-linejoin="round"/>
<path d="M1701.64 393.8L1709.18 531.45L1674.68 323.08Z" fill="#d4bf29" stroke="#d4bf29" stroke-width="1" stroke-linejoin="round"/>
<path d="M1709.18 531.45L1683.17 431.5L1674.68 323.08Z" fill="#d4bf29" stroke="#d4bf29" stroke-width="1" stroke-linejoin="round"/>
<path d="M1674.68 323.08L1683.17 431.5L1647.73 299.4Z" fill="#f5e625" stroke="#f5e625" stroke-width="1" stroke-linejoin="round"/>
<path d="M1683.17 431.5L1657.16 359.66L1647.73 299.4Z" fill="#f5e625" stroke="#f5e625" stroke-width="1" stroke-linejoin="round"/>
<path d="M1878.74 621.95L1871.03 630.82" stroke="#000" stroke-width="1" stroke-linecap="round" fill="none"/>
<path d="M1878.74 621.95L1856.74 646.66" stroke="#000" stroke-width="1" stroke-linecap="round" fill="none"/>
<path d="M1871.03 630.82L1863.33 556.83" stroke="#000" stroke-width="1" stroke-linecap="round" fill="none"/>
<path d="M1871.03 630.82L1844.63 573.09" stroke="#000" stroke-width="1" stroke-linecap="round" fill="none"/>
<path d="M1863.33 556.83L1855.62 444.29" stroke="#000" stroke-width="1" stroke-linecap="round" fill="none"/>
<path d="M1863.33 556.83L1832.53 444.71" stroke="#000" stroke-width="1" stroke-linecap="round" fill="none"/>
<path d="M1855.62 444.29L1847.92 333.44" stroke="#000" stroke-width="1" stroke-linecap="round" fill="none"/>
<path d="M1855.62 444.29L1820.43 323.1" stroke="#000" stroke-width="1" stroke-linecap="round" fill="none"/>
<path d="M1847.92 333.44L1840.21 250.71" stroke="#000" stroke-width="1" stroke-linecap="round" fill="none"/>
<path d="M1847.92 333.44L1808.32 243.54" stroke="#000" stroke-width="1" stroke-linecap="round" fill="none"/>
<path d="M1840.21 250.71L1796.22 211.02" stroke="#000" stroke-width="1" stroke-linecap="round" fill="none"/>
<path d="M1856.74 646.66L1844.63 573.09" stroke="#000" stroke-width="1" stroke-linecap="round" fill="none"/>
<path d="M1856.74 646.66L1836.58 626.76" stroke="#000" stroke-width="1" stroke-linecap="round" fill="none"/>
<path d="M1844.63 573.09L1832.53 444.71" stroke="#000" stroke-width="1" stroke-linecap="round" fill="none"/>
<path d="M1844.63 573.09L1820.44 503.01" stroke="#000" stroke-width="1" stroke-linecap="round" fill="none"/>
<path d="M1832.53 444.71L1820.43 323.1" stroke="#000" stroke-width="1" stroke-linecap="round" fill="none"/>
<path d="M1832.53 444.71L1804.31 362.32" stroke="#000" stroke-width="1" stroke-linecap="round" fill="none"/>
<path d="M1820.43 323.1L1808.32 243.54" stroke="#000" stroke-width="1" stroke-linecap="round" fill="none"/>
<path d="M1820.43 323.1L1788.17 265.3" stroke="#000" stroke-width="1" stroke-linecap="round" fill="none"/>
<path d="M1808.32 243.54L1796.22 211.02" stroke="#000" stroke-width="1" stroke-linecap="round" fill="none"/>
<path d="M1808.32 243.54L1772.04 226.31" stroke="#000" stroke-width="1" stroke-linecap="round" fill="none"/>
<path d="M1796.22 211.02L1755.9 227.48" stroke="#000" stroke-width="1" stroke-linecap="round" fill="none"/>
<path d="M1836.58 626.76L1820.44 503.01" stroke="#000" stroke-width="1" stroke-linecap="round" fill="none"/>
<path d="M1836.58 626.76L1818.87 600.58" stroke="#000" stroke-width="1" stroke-linecap="round" fill="none"/>
<path d="M1820.44 503.01L1804.31 362.32" stroke="#000" stroke-width="1" stroke-linecap="round" fill="none"/>
<path d="M1820.44 503.01L1799.19 453.99" stroke="#000" stroke-width="1" stroke-linecap="round" fill="none"/>
<path d="M1804.31 362.32L1788.17 265.3" stroke="#000" stroke-width="1" stroke-linecap="round" fill="none"/>
<path d="M1804.31 362.32L1779.52 320.76" stroke="#000" stroke-width="1" stroke-linecap="round" fill="none"/>
<path d="M1788.17 265.3L1772.04 226.31" stroke="#000" stroke-width="1" stroke-linecap="round" fill="none"/>
<path d="M1788.17 265.3L1759.84 249.99" stroke="#000" stroke-width="1" stroke-linecap="round" fill="none"/>
<path d="M1772.04 226.31L1755.9 227.48" stroke="#000" stroke-width="1" stroke-linecap="round" fill="none"/>
<path d="M1772.04 226.31L1740.16 237.13" stroke="#000" stroke-width="1" stroke-linecap="round" fill="none"/>
<path d="M1818.87 600.58L1799.19 453.99" stroke="#000" stroke-width="1" stroke-linecap="round" fill="none"/>
<path d="M1818.87 600.58L1804.15 587.36" stroke="#000" stroke-width="1" stroke-linecap="round" fill="none"/>
<path d="M1799.19 453.99L1779.52 320.76" stroke="#000" stroke-width="1" stroke-linecap="round" fill="none"/>
<path d="M1799.19 453.99L1781.53 433.79" stroke="#000" stroke-width="1" stroke-linecap="round" fill="none"/>
<path d="M1779.52 320.76L1759.84 249.99" stroke="#000" stroke-width="1" stroke-linecap="round" fill="none"/>
<path d="M1779.52 320.76L1758.91 309.04" stroke="#000" stroke-width="1" stroke-linecap="round" fill="none"/>
<path d="M1759.84 249.99L1740.16 237.13" stroke="#000" stroke-width="1" stroke-linecap="round" fill="none"/>
<path d="M1759.84 249.99L1736.29 253.45" stroke="#000" stroke-width="1" stroke-linecap="round" fill="none"/>
<path d="M1740.16 237.13L1713.67 252.37" stroke="#000" stroke-width="1" stroke-linecap="round" fill="none"/>
<path d="M1804.15 587.36L1781.53 433.79" stroke="#000" stroke-width="1" stroke-linecap="round" fill="none"/>
<path d="M1804.15 587.36L1792.87 594.07" stroke="#000" stroke-width="1" stroke-linecap="round" fill="none"/>
<path d="M1781.53 433.79L1758.91 309.04" stroke="#000" stroke-width="1" stroke-linecap="round" fill="none"/>
<path d="M1781.53 433.79L1768 441.84" stroke="#000" stroke-width="1" stroke-linecap="round" fill="none"/>
<path d="M1758.91 309.04L1736.29 253.45" stroke="#000" stroke-width="1" stroke-linecap="round" fill="none"/>
<path d="M1758.91 309.04L1743.12 318.44" stroke="#000" stroke-width="1" stroke-linecap="round" fill="none"/>
<path d="M1736.29 253.45L1713.67 252.37" stroke="#000" stroke-width="1" stroke-linecap="round" fill="none"/>
<path d="M1736.29 253.45L1718.24 264.2" stroke="#000" stroke-width="1" stroke-linecap="round" fill="none"/>
<path d="M1713.67 252.37L1693.36 264.45" stroke="#000" stroke-width="1" stroke-linecap="round" fill="none"/>
<path d="M1792.87 594.07L1768 441.84" stroke="#000" stroke-width="1" stroke-linecap="round" fill="none"/>
<path d="M1792.87 594.07L1785.37 620.52" stroke="#000" stroke-width="1" stroke-linecap="round" fill="none"/>
<path d="M1768 441.84L1743.12 318.44" stroke="#000" stroke-width="1" stroke-linecap="round" fill="none"/>
<path d="M1768 441.84L1758.99 477.92" stroke="#000" stroke-width="1" stroke-linecap="round" fill="none"/>
<path d="M1743.12 318.44L1718.24 264.2" stroke="#000" stroke-width="1" stroke-linecap="round" fill="none"/>
<path d="M1743.12 318.44L1732.62 348.67" stroke="#000" stroke-width="1" stroke-linecap="round" fill="none"/>
<path d="M1718.24 264.2L1693.36 264.45" stroke="#000" stroke-width="1" stroke-linecap="round" fill="none"/>
<path d="M1718.24 264.2L1706.24 281.89" stroke="#000" stroke-width="1" stroke-linecap="round" fill="none"/>
<path d="M1693.36 264.45L1679.86 273.02" stroke="#000" stroke-width="1" stroke-linecap="round" fill="none"/>
<path d="M1785.37 620.52L1758.99 477.92" stroke="#000" stroke-width="1" stroke-linecap="round" fill="none"/>
<path d="M1785.37 620.52L1781.88 659.32" stroke="#000" stroke-width="1" stroke-linecap="round" fill="none"/>
<path d="M1758.99 477.92L1732.62 348.67" stroke="#000" stroke-width="1" stroke-linecap="round" fill="none"/>
<path d="M1758.99 477.92L1754.8 542.09" stroke="#000" stroke-width="1" stroke-linecap="round" fill="none"/>
<path d="M1732.62 348.67L1706.24 281.89" stroke="#000" stroke-width="1" stroke-linecap="round" fill="none"/>
<path d="M1732.62 348.67L1727.72 407.9" stroke="#000" stroke-width="1" stroke-linecap="round" fill="none"/>
<path d="M1706.24 281.89L1679.86 273.02" stroke="#000" stroke-width="1" stroke-linecap="round" fill="none"/>
<path d="M1706.24 281.89L1700.65 317.39" stroke="#000" stroke-width="1" stroke-linecap="round" fill="none"/>
<path d="M1679.86 273.02L1661.4 288.31" stroke="#000" stroke-width="1" stroke-linecap="round" fill="none"/>
<path d="M1679.86 273.02L1673.57 284.91" stroke="#000" stroke-width="1" stroke-linecap="round" fill="none"/>
<path d="M1781.88 659.32L1754.8 542.09" stroke="#000" stroke-width="1" stroke-linecap="round" fill="none"/>
<path d="M1781.88 659.32L1782.05 667.99" stroke="#000" stroke-width="1" stroke-linecap="round" fill="none"/>
<path d="M1754.8 542.09L1727.72 407.9" stroke="#000" stroke-width="1" stroke-linecap="round" fill="none"/>
<path d="M1754.8 542.09L1755.54 626.12" stroke="#000" stroke-width="1" stroke-linecap="round" fill="none"/>
<path d="M1727.72 407.9L1700.65 317.39" stroke="#000" stroke-width="1" stroke-linecap="round" fill="none"/>
<path d="M1727.72 407.9L1728.59 506.57" stroke="#000" stroke-width="1" stroke-linecap="round" fill="none"/>
<path d="M1700.65 317.39L1673.57 284.91" stroke="#000" stroke-width="1" stroke-linecap="round" fill="none"/>
<path d="M1700.65 317.39L1701.64 393.8" stroke="#000" stroke-width="1" stroke-linecap="round" fill="none"/>
<path d="M1673.57 284.91L1646.49 292.6" stroke="#000" stroke-width="1" stroke-linecap="round" fill="none"/>
<path d="M1673.57 284.91L1674.68 323.08" stroke="#000" stroke-width="1" stroke-linecap="round" fill="none"/>
<path d="M1646.49 292.6L1647.73 299.4" stroke="#000" stroke-width="1" stroke-linecap="round" fill="none"/>
<path d="M1782.5 690.85L1779.13 682.76" stroke="#000" stroke-width="1" stroke-linecap="round" fill="none"/>
<path d="M1782.5 690.85L1787.21 676.43" stroke="#000" stroke-width="1" stroke-linecap="round" fill="none"/>
<path d="M1755.54 626.12L1728.59 506.57" stroke="#000" stroke-width="1" stroke-linecap="round" fill="none"/>
<path d="M1755.54 626.12L1761.2 696.19" stroke="#000" stroke-width="1" stroke-linecap="round" fill="none"/>
<path d="M1728.59 506.57L1701.64 393.8" stroke="#000" stroke-width="1" stroke-linecap="round" fill="none"/>
<path d="M1728.59 506.57L1735.19 633.09" stroke="#000" stroke-width="1" stroke-linecap="round" fill="none"/>
<path d="M1701.64 393.8L1674.68 323.08" stroke="#000" stroke-width="1" stroke-linecap="round" fill="none"/>
<path d="M1701.64 393.8L1709.18 531.45" stroke="#000" stroke-width="1" stroke-linecap="round" fill="none"/>
<path d="M1674.68 323.08L1647.73 299.4" stroke="#000" stroke-width="1" stroke-linecap="round" fill="none"/>
<path d="M1674.68 323.08L1683.17 431.5" stroke="#000" stroke-width="1" stroke-linecap="round" fill="none"/>
<path d="M1647.73 299.4L1657.16 359.66" stroke="#000" stroke-width="1" stroke-linecap="round" fill="none"/>
<path d="M1787.21 676.43L1761.2 696.19" stroke="#000" stroke-width="1" stroke-linecap="round" fill="none"/>
<path d="M1761.2 696.19L1735.19 633.09" stroke="#000" stroke-width="1" stroke-linecap="round" fill="none"/>
<path d="M1735.19 633.09L1709.18 531.45" stroke="#000" stroke-width="1" stroke-linecap="round" fill="none"/>
<path d="M1709.18 531.45L1683.17 431.5" stroke="#000" stroke-width="1" stroke-linecap="round" fill="none"/>
<path d="M1683.17 431.5L1657.16 359.66" stroke="#000" stroke-width="1" stroke-linecap="round" fill="none"/>
</g>
<path d="M1878.6 360.2L1841.2 379.5M1847.86 370.89L1841.2 379.5L1859.22 375.38" fill="none" stroke="#0072bd" stroke-width="1.1"/>
<path d="M1870.5 361.5L1841.5 383.1M1846.66 374.23L1841.5 383.1L1855.48 377.71" fill="none" stroke="#0072bd" stroke-width="1.1"/>
<path d="M1856.3 379.9L1826 397M1831.4 389.54L1826 397L1840.6 393.18" fill="none" stroke="#0072bd" stroke-width="1.1"/>
<path d="M1844.4 397L1822.1 409.6M1826.07 404.1L1822.1 409.6L1832.85 406.78" fill="none" stroke="#0072bd" stroke-width="1.1"/>
<path d="M1835.8 408.1L1809.6 423.7M1814.27 416.98L1809.6 423.7L1822.23 420.12" fill="none" stroke="#0072bd" stroke-width="1.1"/>
<path d="M1820.1 429.2L1807.5 436.3M1809.74 433.2L1807.5 436.3L1813.57 434.71" fill="none" stroke="#0072bd" stroke-width="1.1"/>
<path d="M1818.1 433.8L1795.4 446.4M1799.44 440.88L1795.4 446.4L1806.34 443.6" fill="none" stroke="#0072bd" stroke-width="1.1"/>
<path d="M1803.5 452.4L1782.8 464M1786.49 458.93L1782.8 464L1792.78 461.41" fill="none" stroke="#0072bd" stroke-width="1.1"/>
<path d="M1792.4 466.5L1771.8 478.1M1775.47 473.04L1771.8 478.1L1781.73 475.51" fill="none" stroke="#0072bd" stroke-width="1.1"/>
<path d="M1785.4 475.1L1760.2 489.7M1764.69 483.37L1760.2 489.7L1772.34 486.39" fill="none" stroke="#0072bd" stroke-width="1.1"/>
<path d="M1782.2 482.3L1752 499.9M1757.38 492.28L1752 499.9L1766.55 495.9" fill="none" stroke="#0072bd" stroke-width="1.1"/>
<path d="M1755.5 493.9L1741.4 501.4M1743.91 498.08L1741.4 501.4L1748.2 499.77" fill="none" stroke="#0072bd" stroke-width="1.1"/>
<path d="M1755 504.4L1731.8 518.5M1735.93 512.45L1731.8 518.5L1742.98 515.24" fill="none" stroke="#0072bd" stroke-width="1.1"/>
<path d="M1760.6 508L1731.3 525.1M1736.52 517.7L1731.3 525.1L1745.42 521.22" fill="none" stroke="#0072bd" stroke-width="1.1"/>
<path d="M1735.1 517L1713.2 529.6M1717.1 524.13L1713.2 529.6L1723.75 526.76" fill="none" stroke="#0072bd" stroke-width="1.1"/>
<path d="M1700.1 505.2L1708.6 500.4" fill="none" stroke="#0072bd" stroke-width="1.1"/>
<path d="M1721.3 499.6L1728.3 496.2" fill="none" stroke="#0072bd" stroke-width="1.1"/>
<path d="M1752.5 486.3L1757 484.3" fill="none" stroke="#0072bd" stroke-width="1.1"/>
<path d="M1683 467.4L1685 466.4" fill="none" stroke="#0072bd" stroke-width="1.1"/>
<path d="M1653.6 356.6L1656.2 355.3" fill="none" stroke="#0072bd" stroke-width="1.1"/>
<path d="M1646.1 373.8L1658.7 366.2M1652.63 367.95L1658.7 366.2L1656.46 369.46" fill="none" stroke="#0072bd" stroke-width="1.1"/>
<path d="M1647.6 398L1665.7 386.9M1656.98 389.48L1665.7 386.9L1662.48 391.65" fill="none" stroke="#0072bd" stroke-width="1.1"/>
<path d="M1657.2 435.3L1669.8 427.7M1663.73 429.45L1669.8 427.7L1667.56 430.96" fill="none" stroke="#0072bd" stroke-width="1.1"/>
<path d="M1674.3 427.7L1679.9 424.2" fill="none" stroke="#0072bd" stroke-width="1.1"/>
<path d="M1365.5 714.99L1365.5 284.59" stroke="#262626" stroke-width="1" fill="none"/>
<path d="M1842.3 903.15L2230.62 672.03" stroke="#262626" stroke-width="1" fill="none"/>
<path d="M1842.3 903.15L1365.5 714.99" stroke="#262626" stroke-width="1" fill="none"/>
<path d="M1365.5 714.99L1353.31 710.18" stroke="#262626" stroke-width="1" fill="none"/>
<text x="1345.8" y="715.19" text-anchor="end" font-size="20" fill="#262626" font-family="Liberation Sans, sans-serif" stroke="#262626" stroke-width="0.3">-5</text>
<path d="M1365.5 661.19L1353.31 656.38" stroke="#262626" stroke-width="1" fill="none"/>
<text x="1345.8" y="661.39" text-anchor="end" font-size="20" fill="#262626" font-family="Liberation Sans, sans-serif" stroke="#262626" stroke-width="0.3">-4</text>
<path d="M1365.5 607.39L1353.31 602.58" stroke="#262626" stroke-width="1" fill="none"/>
<text x="1345.8" y="607.59" text-anchor="end" font-size="20" fill="#262626" font-family="Liberation Sans, sans-serif" stroke="#262626" stroke-width="0.3">-3</text>
<path d="M1365.5 553.59L1353.31 548.78" stroke="#262626" stroke-width="1" fill="none"/>
<text x="1345.8" y="553.79" text-anchor="end" font-size="20" fill="#262626" font-family="Liberation Sans, sans-serif" stroke="#262626" stroke-width="0.3">-2</text>
<path d="M1365.5 499.79L1353.31 494.98" stroke="#262626" stroke-width="1" fill="none"/>
<text x="1345.8" y="499.99" text-anchor="end" font-size="20" fill="#262626" font-family="Liberation Sans, sans-serif" stroke="#262626" stroke-width="0.3">-1</text>
<path d="M1365.5 445.99L1353.31 441.18" stroke="#262626" stroke-width="1" fill="none"/>
<text x="1345.8" y="446.19" text-anchor="end" font-size="20" fill="#262626" font-family="Liberation Sans, sans-serif" stroke="#262626" stroke-width="0.3">0</text>
<path d="M1365.5 392.19L1353.31 387.38" stroke="#262626" stroke-width="1" fill="none"/>
<text x="1345.8" y="392.39" text-anchor="end" font-size="20" fill="#262626" font-family="Liberation Sans, sans-serif" stroke="#262626" stroke-width="0.3">1</text>
<path d="M1365.5 338.39L1353.31 333.58" stroke="#262626" stroke-width="1" fill="none"/>
<text x="1345.8" y="338.59" text-anchor="end" font-size="20" fill="#262626" font-family="Liberation Sans, sans-serif" stroke="#262626" stroke-width="0.3">2</text>
<path d="M1365.5 284.59L1353.31 279.78" stroke="#262626" stroke-width="1" fill="none"/>
<text x="1345.8" y="284.79" text-anchor="end" font-size="20" fill="#262626" font-family="Liberation Sans, sans-serif" stroke="#262626" stroke-width="0.3">3</text>
<path d="M1842.3 903.15L1831.04 909.85" stroke="#262626" stroke-width="1" fill="none"/>
<text x="1822" y="934.05" text-anchor="end" font-size="20" fill="#262626" font-family="Liberation Sans, sans-serif" stroke="#262626" stroke-width="0.3">-1</text>
<path d="M1723.1 856.11L1711.84 862.81" stroke="#262626" stroke-width="1" fill="none"/>
<text x="1702.8" y="887.01" text-anchor="end" font-size="20" fill="#262626" font-family="Liberation Sans, sans-serif" stroke="#262626" stroke-width="0.3">0</text>
<path d="M1603.9 809.07L1592.64 815.77" stroke="#262626" stroke-width="1" fill="none"/>
<text x="1583.6" y="839.97" text-anchor="end" font-size="20" fill="#262626" font-family="Liberation Sans, sans-serif" stroke="#262626" stroke-width="0.3">1</text>
<path d="M1484.7 762.03L1473.44 768.73" stroke="#262626" stroke-width="1" fill="none"/>
<text x="1464.4" y="792.93" text-anchor="end" font-size="20" fill="#262626" font-family="Liberation Sans, sans-serif" stroke="#262626" stroke-width="0.3">2</text>
<path d="M1365.5 714.99L1354.24 721.69" stroke="#262626" stroke-width="1" fill="none"/>
<text x="1345.2" y="745.89" text-anchor="end" font-size="20" fill="#262626" font-family="Liberation Sans, sans-serif" stroke="#262626" stroke-width="0.3">3</text>
<path d="M1842.3 903.15L1854.49 907.96" stroke="#262626" stroke-width="1" fill="none"/>
<text x="1861.9" y="930.75" text-anchor="start" font-size="20" fill="#262626" font-family="Liberation Sans, sans-serif" stroke="#262626" stroke-width="0.3">-3</text>
<path d="M1907.02 864.63L1919.21 869.44" stroke="#262626" stroke-width="1" fill="none"/>
<text x="1926.62" y="892.23" text-anchor="start" font-size="20" fill="#262626" font-family="Liberation Sans, sans-serif" stroke="#262626" stroke-width="0.3">-2</text>
<path d="M1971.74 826.11L1983.93 830.92" stroke="#262626" stroke-width="1" fill="none"/>
<text x="1991.34" y="853.71" text-anchor="start" font-size="20" fill="#262626" font-family="Liberation Sans, sans-serif" stroke="#262626" stroke-width="0.3">-1</text>
<path d="M2036.46 787.59L2048.65 792.4" stroke="#262626" stroke-width="1" fill="none"/>
<text x="2056.06" y="815.19" text-anchor="start" font-size="20" fill="#262626" font-family="Liberation Sans, sans-serif" stroke="#262626" stroke-width="0.3">0</text>
<path d="M2101.18 749.07L2113.37 753.88" stroke="#262626" stroke-width="1" fill="none"/>
<text x="2120.78" y="776.67" text-anchor="start" font-size="20" fill="#262626" font-family="Liberation Sans, sans-serif" stroke="#262626" stroke-width="0.3">1</text>
<path d="M2165.9 710.55L2178.09 715.36" stroke="#262626" stroke-width="1" fill="none"/>
<text x="2185.5" y="738.15" text-anchor="start" font-size="20" fill="#262626" font-family="Liberation Sans, sans-serif" stroke="#262626" stroke-width="0.3">2</text>
<path d="M2230.62 672.03L2242.81 676.84" stroke="#262626" stroke-width="1" fill="none"/>
<text x="2250.22" y="699.63" text-anchor="start" font-size="20" fill="#262626" font-family="Liberation Sans, sans-serif" stroke="#262626" stroke-width="0.3">3</text>
<text x="1641.5" y="914.7" text-anchor="middle" font-size="22" fill="#262626" font-family="Liberation Sans, sans-serif" stroke="#262626" stroke-width="0.3" textLength="51" lengthAdjust="spacingAndGlyphs">Eje Y</text>
<text x="2020.2" y="904.8" text-anchor="middle" font-size="22" fill="#262626" font-family="Liberation Sans, sans-serif" stroke="#262626" stroke-width="0.3" textLength="50.9" lengthAdjust="spacingAndGlyphs">Eje X</text>
<text transform="translate(1315.1 499.5) rotate(-90)" text-anchor="middle" font-size="22" fill="#262626" font-family="Liberation Sans, sans-serif" stroke="#262626" stroke-width="0.3">Eje Z</text>
<text x="1797.7" y="45.7" text-anchor="middle" font-size="22" font-weight="bold" fill="#000" font-family="Liberation Sans, sans-serif" stroke="#000" stroke-width="0.3">Gradiente 3D</text>
</g>
</svg>
</body></html>
